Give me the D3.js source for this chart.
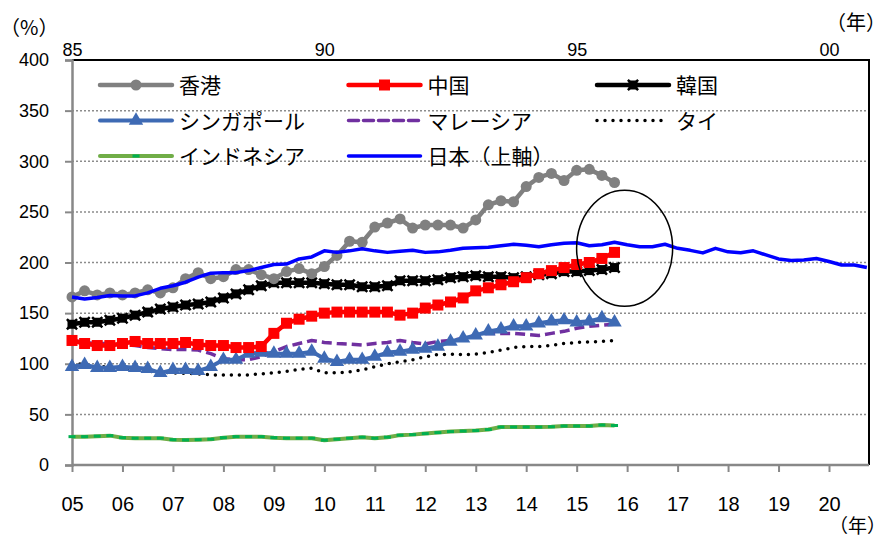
<!DOCTYPE html>
<html>
<head>
<meta charset="utf-8">
<script src="https://cdn.jsdelivr.net/npm/d3@7"></script>
<style>
  body { margin: 0; background: #fff; }
  svg { display: block; }
  text { fill: #000; }
</style>
</head>
<body>
<svg id="chart"></svg>
<script>
// quarterly, 2005Q1 - 2015Q4
const hongKong = [166, 172, 168, 170, 168, 170, 173, 170, 175, 184, 190, 184,
  186, 193, 193, 188, 184, 191, 194, 189, 196, 207, 221, 220,
  235, 239, 243, 234, 237, 237, 237, 234, 242, 257, 261, 260,
  275, 284, 288, 281, 291, 292, 286, 279];
const china = [123, 120, 118, 118, 120, 122, 120, 120, 120, 121, 119, 118,
  118, 116, 116, 117, 130, 140, 144, 147, 150, 151, 151, 151,
  151, 151, 148, 150, 155, 158, 161, 165, 172, 175, 178, 181,
  185, 189, 192, 195, 198, 200, 204, 210];
const korea = [139, 141, 141, 143, 145, 148, 151, 154, 156, 158, 159, 161,
  165, 169, 173, 177, 180, 180, 180, 180, 179, 178, 178, 176,
  176, 177, 182, 182, 182, 183, 185, 186, 187, 186, 186, 185,
  186, 188, 189, 191, 191, 192, 193, 195];
const singapore = [97, 99, 96, 96, 97, 96, 95, 91, 94, 94, 93, 97,
  104, 104, 110, 111, 110, 110, 110, 112, 105, 102, 104, 104,
  107, 111, 112, 114, 115, 117, 122, 125, 128, 132, 134, 137,
  137, 140, 142, 143, 141, 142, 145, 141];
const malaysia = [123, 121, 120, 120, 119, 118, 116, 115, 114, 114, 113.5, 110,
  105, 104, 104, 107, 112, 117, 120, 123, 121, 120, 119.5, 118.5,
  120, 121, 123, 121, 119.5, 122, 123, 125, 128, 130, 130, 130,
  129, 128, 130, 132, 135, 137, 138, 139];
const thailand = [101, 99, 97.5, 96.5, 95.5, 94, 92.5, 92, 91, 90.5, 90, 89,
  89, 89, 89, 90, 91, 92.5, 94.5, 95.5, 91, 91, 92, 94,
  97, 100, 102, 104, 107, 109, 109.5, 109, 109.5, 111, 113.6, 116,
  117, 117, 118, 120, 121, 121.5, 122, 123];
const indonesia = [28, 28, 28.5, 29, 27, 26.5, 26.5, 26.5, 25, 24.7, 25, 25.5,
  27, 28, 28, 28, 27, 26.5, 26.5, 26.5, 24.5, 25.5, 26.5, 27.5,
  26.5, 27.5, 29.5, 30, 31, 32, 33, 33.5, 34, 35, 37.5, 37.5,
  37.5, 37.5, 37.8, 38.5, 38.5, 38.5, 39.5, 39];
// Japan, quarterly 1985Q1 - 2000Q4 (top axis)
const japan = [166, 164, 165.5, 167.5, 167, 167, 170, 174.5, 177, 180.5, 185.5, 189.5,
  190, 190, 192, 195, 198, 198.5, 203.5, 205.5, 211.5, 210, 211.5, 213.5,
  211.5, 210, 211, 212, 210, 210.5, 212, 214, 214.5, 215, 216.5, 218,
  217, 215.5, 217.5, 219, 219.5, 216.5, 217.5, 220, 217.5, 215.5, 215.5, 218,
  214, 212, 209.5, 214, 210.5, 209.7, 211.5, 207.5, 203.5, 202, 202.5, 204,
  201, 197.5, 197.5, 195];

const bottomYears = d3.range(2005, 2021);
const topYears = [1985, 1990, 1995, 2000];
const yTicks = [0, 50, 100, 150, 200, 250, 300, 350, 400];

const width = 887;
const height = 541;
const mLeft = 72, mRight = 869, mTop = 60, mBottom = 465;

const svg = d3.select('#chart').attr('width', width).attr('height', height);

const x = d3.scaleLinear().domain([2005, 2020]).range([mLeft, 829]);
const xTop = d3.scaleLinear().domain([1985, 2000]).range([mLeft, 829]);
const y = d3.scaleLinear().domain([0, 400]).range([mBottom, mTop]);

const numFont = '"Liberation Sans", Arial, sans-serif';
const jpFont = '"Noto Sans CJK JP", sans-serif';

// grid
svg.append('g')
  .selectAll('line')
  .data(yTicks.filter(d => d > 0 && d < 400))
  .join('line')
  .attr('x1', mLeft).attr('x2', mRight)
  .attr('y1', d => y(d)).attr('y2', d => y(d))
  .attr('stroke', '#8c8c8c')
  .attr('stroke-width', 1.5)
  .attr('stroke-dasharray', '2,2');

// frame (top + right black)
svg.append('path')
  .attr('d', `M${mLeft},${y(400)}H${mRight}V${mBottom}`)
  .attr('fill', 'none')
  .attr('stroke', '#000')
  .attr('stroke-width', 2);

// left axis
const yAxis = svg.append('g')
  .attr('transform', `translate(${mLeft},0)`)
  .call(d3.axisLeft(y).tickValues(yTicks).tickSize(7).tickPadding(16));
yAxis.select('.domain').attr('stroke', '#888').attr('stroke-width', 2.5);
yAxis.selectAll('.tick line').attr('stroke', '#888').attr('stroke-width', 2);
yAxis.selectAll('.tick text')
  .attr('font-family', numFont).attr('font-size', 18).attr('fill', '#000');

// bottom axis
const xAxis = svg.append('g')
  .attr('transform', `translate(0,${mBottom})`)
  .call(d3.axisBottom(x).tickValues(bottomYears).tickSize(7).tickPadding(25)
    .tickFormat(d => String(d % 100).padStart(2, '0')));
xAxis.select('.domain')
  .attr('d', `M${mLeft},0H${mRight}`)
  .attr('stroke', '#888').attr('stroke-width', 2.5);
xAxis.selectAll('.tick line').attr('stroke', '#888').attr('stroke-width', 2);
xAxis.selectAll('.tick text')
  .attr('font-family', '"Liberation Sans Narrow", "Liberation Sans", sans-serif')
  .attr('font-size', 20).attr('fill', '#000');

// top axis labels
const xTopAxis = svg.append('g')
  .attr('transform', `translate(0,${mTop})`)
  .call(d3.axisTop(xTop).tickValues(topYears).tickSize(0).tickPadding(4)
    .tickFormat(d => String(d % 100).padStart(2, '0')));
xTopAxis.select('.domain').remove();
xTopAxis.selectAll('.tick text')
  .attr('font-family', numFont).attr('font-size', 18).attr('fill', '#000');

// unit labels
svg.append('text').attr('x', 0).attr('y', 35)
  .attr('font-family', jpFont).attr('font-size', 20).text('（%）');
svg.append('text').attr('x', 886).attr('y', 30).attr('text-anchor', 'end')
  .attr('font-family', jpFont).attr('font-size', 20).text('（年）');
svg.append('text').attr('x', 886).attr('y', 533).attr('text-anchor', 'end')
  .attr('font-family', jpFont).attr('font-size', 19).text('（年）');

const asiaT = i => 2005 + i / 4;
const japanT = i => 1985 + i / 4;

const series = [
  { name: '香港', values: hongKong, color: '#808080', width: 4.5, marker: 'circle' },
  { name: '中国', values: china, color: '#ff0000', width: 4.5, marker: 'square' },
  { name: '韓国', values: korea, color: '#000000', width: 4.5, marker: 'star' },
  { name: 'シンガポール', values: singapore, color: '#3e6ab4', width: 4, marker: 'triangle' },
  { name: 'マレーシア', values: malaysia, color: '#7030a0', width: 3.5, dash: '10,5' },
  { name: 'タイ', values: thailand, color: '#000000', width: 3.5, dash: '0,8', cap: 'round' },
  { name: 'インドネシア', values: indonesia, color: '#70ad47', width: 4, marker: 'dash' },
  { name: '日本（上軸）', values: japan, color: '#0000ff', width: 3.5, onTop: true }
];

function drawMarker(g, type, color) {
  if (type === 'circle') {
    g.append('circle').attr('r', 5.5).attr('fill', color);
  } else if (type === 'square') {
    g.append('rect').attr('x', -5.5).attr('y', -5.5).attr('width', 11).attr('height', 11).attr('fill', color);
  } else if (type === 'star') {
    g.append('rect').attr('x', -4.5).attr('y', -4.5).attr('width', 9).attr('height', 9).attr('fill', color);
    g.append('path').attr('d', d3.symbol(d3.symbolX, 70)()).attr('stroke', color).attr('stroke-width', 2.5);
  } else if (type === 'triangle') {
    g.append('path').attr('d', d3.symbol(d3.symbolTriangle, 90)()).attr('fill', color);
  } else if (type === 'dash') {
    g.append('rect').attr('x', -3.5).attr('y', -1.5).attr('width', 7).attr('height', 3).attr('fill', '#00b050');
  }
}

const plot = svg.append('g');
// back to front
const drawOrder = [6, 5, 4, 3, 2, 1, 0, 7];
drawOrder.forEach(k => {
  const s = series[k];
  const xs = s.onTop ? xTop : x;
  const tf = s.onTop ? japanT : asiaT;
  const line = d3.line()
    .x((d, i) => xs(tf(i)))
    .y(d => y(d));
  plot.append('path')
    .datum(s.values)
    .attr('d', line)
    .attr('fill', 'none')
    .attr('stroke', s.color)
    .attr('stroke-width', s.width)
    .attr('stroke-linejoin', 'round')
    .attr('stroke-linecap', s.cap || 'butt')
    .attr('stroke-dasharray', s.dash || null);
  if (s.marker) {
    plot.append('g')
      .selectAll('g')
      .data(s.values)
      .join('g')
      .attr('transform', (d, i) => `translate(${xs(tf(i))},${y(d)})`)
      .each(function () { drawMarker(d3.select(this), s.marker, s.color); });
  }
});

// legend
const legend = svg.append('g');
series.forEach((s, i) => {
  const col = i % 3, row = Math.floor(i / 3);
  const lx = 100 + col * 248.5;
  const ly = 85 + row * 35.5;
  const g = legend.append('g').attr('transform', `translate(${lx},${ly})`);
  g.append('line')
    .attr('x1', 0).attr('x2', s.dash && s.cap ? 66 : 72)
    .attr('stroke', s.color)
    .attr('stroke-width', s.width)
    .attr('stroke-linecap', s.cap || 'round')
    .attr('stroke-dasharray', s.dash || null);
  if (s.marker) {
    const m = g.append('g').attr('transform', 'translate(36,0)');
    drawMarker(m, s.marker, s.color);
  }
  g.append('text')
    .attr('x', 79).attr('y', 8)
    .attr('font-family', jpFont)
    .attr('font-size', 21)
    .text(s.name);
});

// highlight ellipse
svg.append('ellipse')
  .attr('cx', x(2015.95)).attr('cy', y(214))
  .attr('rx', 48).attr('ry', 58)
  .attr('fill', 'none')
  .attr('stroke', '#000')
  .attr('stroke-width', 1.5);
</script>
</body>
</html>
